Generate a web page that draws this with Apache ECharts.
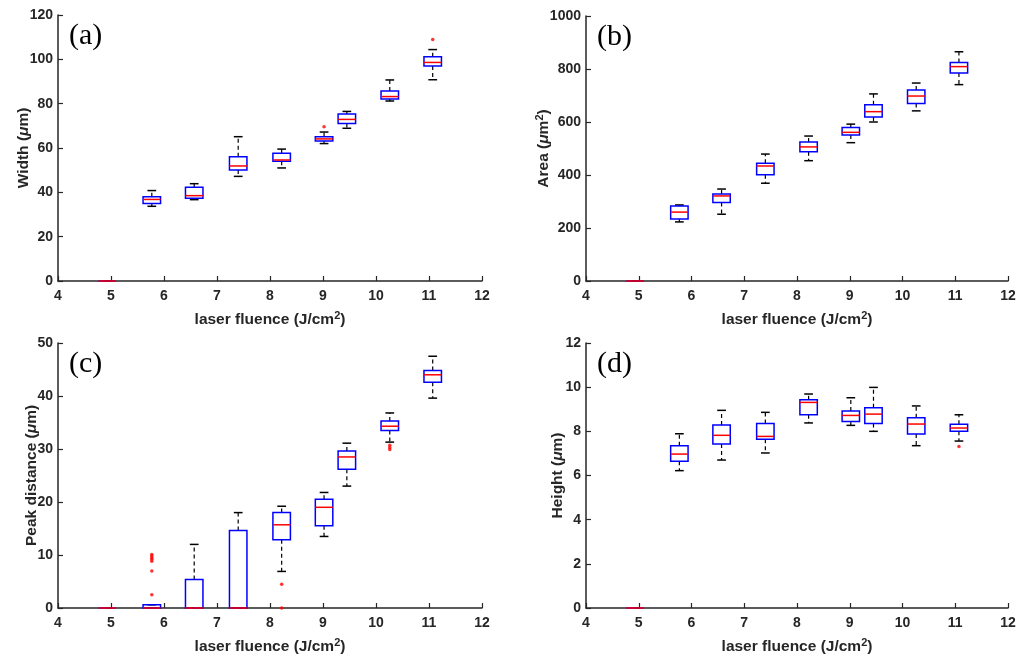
<!DOCTYPE html>
<html>
<head>
<meta charset="utf-8">
<script src="https://cdn.jsdelivr.net/npm/echarts@6/dist/echarts.min.js"></script>
<style>
  html, body { margin: 0; padding: 0; background: #fff; }
  #chart { width: 1030px; height: 657px; }
</style>
</head>
<body>
<div id="chart"></div>
<script>
// laser fluence positions of the boxes (J/cm2)
const fluence = [4.93, 5.77, 6.57, 7.40, 8.22, 9.02, 9.45, 10.26, 11.07];
const xTicks = [4, 5, 6, 7, 8, 9, 10, 11, 12];

// each row: [min, q1, median, q3, max]
const widthBox = [
  [0, 0, 0, 0, 0],
  [33.7, 35.0, 36.8, 38.0, 40.8],
  [36.7, 37.3, 38.5, 42.3, 43.9],
  [47.2, 50.1, 51.9, 56.1, 65.1],
  [51.0, 54.0, 54.6, 57.6, 59.5],
  [62.0, 63.2, 64.1, 65.1, 67.2],
  [68.9, 71.1, 72.9, 75.3, 76.5],
  [81.2, 82.1, 83.2, 85.7, 90.7],
  [90.8, 97.0, 98.6, 101.2, 104.4]
];
const widthOut = [[5, 69.6], [8, 109.0]];

const areaBox = [
  [0, 0, 0, 0, 0],
  [223, 234, 260, 283, 287],
  [252, 296, 321, 328, 347],
  [369, 401, 434, 444, 479],
  [454, 488, 506, 525, 547],
  [522, 551, 561, 579, 592],
  [600, 619, 639, 665, 706],
  [642, 670, 698, 721, 747],
  [741, 785, 809, 825, 865]
];
const areaOut = [];

const peakBox = [
  [0, 0, 0, 0, 0],
  [0, 0, 0, 0.6, 0.6],
  [0, 0, 0, 5.4, 12.0],
  [0, 0, 0, 14.6, 18.0],
  [6.9, 12.9, 15.7, 18.0, 19.2],
  [13.5, 15.5, 19.0, 20.5, 21.8],
  [23.0, 26.2, 28.5, 29.6, 31.1],
  [31.3, 33.5, 34.3, 35.3, 36.8],
  [39.6, 42.6, 44.0, 44.8, 47.5]
];
const peakOut = [
  [1, 10.1], [1, 9.8], [1, 9.5], [1, 9.2], [1, 8.8], [1, 7.0], [1, 2.5],
  [4, 4.5], [4, 0],
  [7, 30.7], [7, 30.3], [7, 29.9]
];

const heightBox = [
  [0, 0, 0, 0, 0],
  [6.22, 6.64, 6.97, 7.35, 7.89],
  [6.70, 7.43, 7.82, 8.29, 8.95],
  [7.02, 7.64, 7.77, 8.36, 8.86],
  [8.38, 8.75, 9.31, 9.43, 9.69],
  [8.27, 8.45, 8.72, 8.92, 9.52],
  [8.00, 8.35, 8.78, 9.07, 9.99],
  [7.35, 7.88, 8.33, 8.62, 9.15],
  [7.56, 8.00, 8.15, 8.32, 8.75]
];
const heightOut = [[8, 7.31]];

const boxWidth = 0.33;
const textColor = "#262626";
const fontFamily = "'Liberation Sans', Arial, sans-serif";

const nameRich = {
  n: { fontSize: 15.5, fontWeight: "bold", color: textColor, fontFamily: fontFamily, lineHeight: 20 },
  m: { fontSize: 15.5, fontWeight: "bold", fontStyle: "italic", color: textColor, fontFamily: fontFamily, lineHeight: 20 },
  s: { fontSize: 11, fontWeight: "bold", color: textColor, fontFamily: fontFamily, lineHeight: 12, verticalAlign: "top" }
};

function renderBox(params, api) {
  const x = api.value(0);
  const pMin = api.coord([x, api.value(1)]);
  const pQ1 = api.coord([x, api.value(2)]);
  const pMd = api.coord([x, api.value(3)]);
  const pQ3 = api.coord([x, api.value(4)]);
  const pMax = api.coord([x, api.value(5)]);
  const bw = api.size([boxWidth, 0])[0];
  const cx = pMd[0];
  const half = bw / 2;
  const capHalf = bw / 4;
  const dash = { stroke: "#000", lineWidth: 1.2, lineDash: [4, 3], fill: null };
  const solid = { stroke: "#000", lineWidth: 1.5, fill: null };
  return {
    type: "group",
    children: [
      { type: "line", shape: { x1: cx, y1: pQ3[1], x2: cx, y2: pMax[1] }, style: dash },
      { type: "line", shape: { x1: cx, y1: pQ1[1], x2: cx, y2: pMin[1] }, style: dash },
      { type: "line", shape: { x1: cx - capHalf, y1: pMax[1], x2: cx + capHalf, y2: pMax[1] }, style: solid },
      { type: "line", shape: { x1: cx - capHalf, y1: pMin[1], x2: cx + capHalf, y2: pMin[1] }, style: solid },
      {
        type: "rect",
        shape: { x: cx - half, y: pQ3[1], width: bw, height: pQ1[1] - pQ3[1] },
        style: { stroke: "#0000ff", lineWidth: 1.5, fill: null }
      },
      { type: "line", shape: { x1: cx - half, y1: pMd[1], x2: cx + half, y2: pMd[1] }, style: { stroke: "#ff0000", lineWidth: 1.5 } }
    ]
  };
}

const panels = [
  { box: widthBox, out: widthOut, max: 120, interval: 20, name: "{n|Width (}{m|μ}{n|m)}", gap: 24, label: "(a)",
    grid: { left: 58, right: 548, top: 15, bottom: 376 } },
  { box: areaBox, out: areaOut, max: 1000, interval: 200, name: "{n|Area (}{m|μ}{n|m}{s|2}{n|)}", gap: 32, label: "(b)",
    grid: { left: 586, right: 22, top: 16, bottom: 376 } },
  { box: peakBox, out: peakOut, max: 50, interval: 10, name: "{n|Peak distance (}{m|μ}{n|m)}", gap: 16, label: "(c)",
    grid: { left: 58, right: 548, top: 343, bottom: 49 } },
  { box: heightBox, out: heightOut, max: 12, interval: 2, name: "{n|Height (}{m|μ}{n|m)}", gap: 18, label: "(d)",
    grid: { left: 586, right: 22, top: 343, bottom: 49 } }
];

const chart = echarts.init(document.getElementById("chart"));

const option = {
  backgroundColor: "#fff",
  animation: false,
  grid: panels.map(p => p.grid),
  xAxis: panels.map((p, i) => ({
    type: "value",
    gridIndex: i,
    min: xTicks[0],
    max: xTicks[xTicks.length - 1],
    interval: 1,
    name: "{n|laser fluence (J/cm}{s|2}{n|)}",
    nameLocation: "middle",
    nameGap: 29,
    nameMoveOverlap: false,
    nameTextStyle: { rich: nameRich },
    axisLine: { lineStyle: { color: textColor, width: 1.5 } },
    axisTick: { inside: true, length: 5, lineStyle: { color: textColor, width: 1.2 } },
    axisLabel: { color: textColor, fontSize: 14, fontWeight: "bold", fontFamily: fontFamily, margin: 8 },
    splitLine: { show: false }
  })),
  yAxis: panels.map((p, i) => ({
    type: "value",
    gridIndex: i,
    min: 0,
    max: p.max,
    interval: p.interval,
    name: p.name,
    nameLocation: "middle",
    nameGap: p.gap,
    nameMoveOverlap: false,
    nameRotate: 90,
    nameTextStyle: { rich: nameRich },
    axisLine: { show: true, lineStyle: { color: textColor, width: 1.5 } },
    axisTick: { show: true, inside: true, length: 5, lineStyle: { color: textColor, width: 1.2 } },
    axisLabel: { color: textColor, fontSize: 14, fontWeight: "bold", fontFamily: fontFamily, margin: 5, formatter: v => String(v) },
    splitLine: { show: false }
  })),
  graphic: panels.map(p => ({
    type: "text",
    left: p.grid.left + 11,
    top: p.grid.top + 6,
    style: { text: p.label, font: "30px 'Liberation Serif', 'Times New Roman', serif", fill: "#000" }
  })),
  series: []
};

panels.forEach((p, i) => {
  option.series.push({
    type: "custom",
    xAxisIndex: i,
    yAxisIndex: i,
    renderItem: renderBox,
    encode: { x: 0, y: [1, 2, 3, 4, 5] },
    data: fluence.map((x, k) => [x].concat(p.box[k])),
    z: 3
  });
  option.series.push({
    type: "scatter",
    xAxisIndex: i,
    yAxisIndex: i,
    symbol: "circle",
    symbolSize: 3.5,
    itemStyle: { color: "#ff0000" },
    data: p.out.map(o => [fluence[o[0]], o[1]]),
    z: 4
  });
});

chart.setOption(option);
</script>
</body>
</html>
